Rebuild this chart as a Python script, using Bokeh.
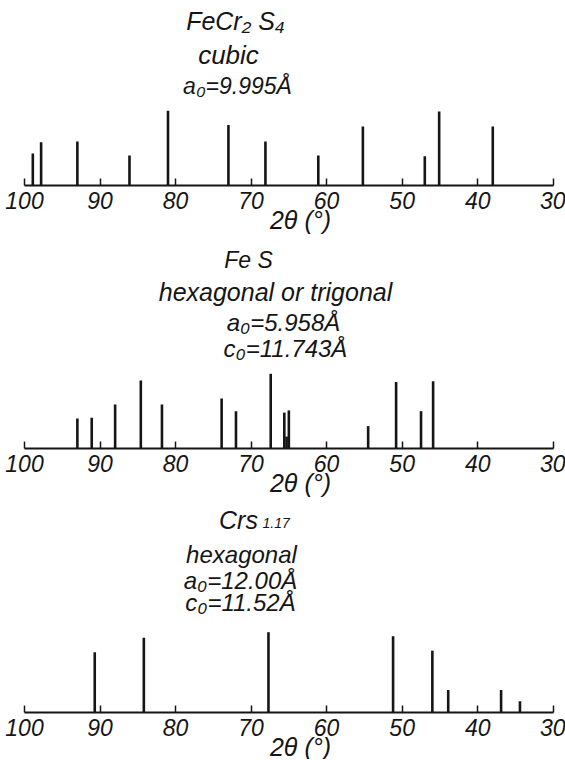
from bokeh.plotting import figure
from bokeh.models import Range1d, Label, FixedTicker
from bokeh.layouts import column
from bokeh.embed import file_html
from bokeh.resources import INLINE

# ---------------- data ----------------
tick_positions = [100, 90, 80, 70, 60, 50, 40, 30]
x_axis_label = "2θ (°)"

fecr2s4_2theta = [98.9, 97.8, 93.0, 86.1, 81.0, 73.0, 68.1, 61.1, 55.2, 47.0, 45.1, 38.0]
fecr2s4_rel_int = [43, 58, 59, 40, 100, 81, 59, 40, 79, 39, 99, 79]

fes_2theta = [93.0, 91.1, 88.0, 84.6, 81.8, 73.9, 72.0, 67.4, 65.6, 65.3, 65.0, 54.5, 50.8, 47.5, 45.9]
fes_rel_int = [40, 41, 59, 91, 59, 67, 50, 100, 48, 16, 51, 30, 89, 50, 90]

crs_2theta = [90.7, 84.2, 67.7, 51.2, 46.0, 43.9, 36.9, 34.4]
crs_rel_int = [75, 93, 100, 95, 77, 28, 28, 14]

fecr2s4_title = ["FeCr₂ S₄", "cubic", "a₀=9.995Å"]
fes_title = ["Fe S", "hexagonal or trigonal", "a₀=5.958Å", "c₀=11.743Å"]
crs_title = ["Crs", "hexagonal", "a₀=12.00Å", "c₀=11.52Å"]
crs_subscript = "1.17"

# ---------------- style / layout ----------------
FONT = "Liberation Sans"
INK = "#151515"
WIDTH = 565
X100 = 24.0          # pixel column of the 100° tick
X30 = 552.7          # pixel column of the 30° tick
PX_PER_DEG = (X30 - X100) / 70.0
X_START = 100 + X100 / PX_PER_DEG
X_END = 30 - (WIDTH - X30) / PX_PER_DEG


def deg_at(px):
    return 100 - (px - X100) / PX_PER_DEG


def label(p, x, y, text, size, align="center"):
    p.add_layout(Label(x=x, y=y, text=text, text_align=align,
                       text_baseline="alphabetic", text_font=FONT,
                       text_font_style="italic", text_font_size=size,
                       text_color=INK))


def make_panel(tt, inten, height, below_px, peak_px, titles):
    ppu = peak_px / 100.0
    p = figure(width=WIDTH, height=height,
               x_range=Range1d(X_START, X_END),
               y_range=Range1d(-below_px / ppu, (height - below_px) / ppu),
               y_axis_location=None, toolbar_location=None, output_backend="svg",
               min_border_left=0, min_border_right=0, min_border_top=0,
               min_border_bottom=0, outline_line_color=None,
               background_fill_color="white", border_fill_color="white")
    p.grid.visible = False
    p.segment(x0=tt, y0=[0] * len(tt), x1=tt, y1=inten, line_width=2.6, line_color=INK)
    ax = p.xaxis[0]
    ax.fixed_location = 0
    ax.bounds = (30, 100)
    ax.ticker = FixedTicker(ticks=tick_positions)
    ax.axis_line_width = 2
    ax.axis_line_color = INK
    ax.major_tick_line_color = INK
    ax.major_tick_line_width = 1.5
    ax.major_tick_in = 7
    ax.major_tick_out = 0
    ax.minor_tick_line_color = None
    ax.major_label_text_font = FONT
    ax.major_label_text_font_style = "italic"
    ax.major_label_text_font_size = "23px"
    ax.major_label_text_color = INK
    ax.major_label_standoff = 6
    label(p, deg_at(300), -34 / ppu, x_axis_label, "25px")
    for text, px, above_px, size in titles:
        label(p, deg_at(px), above_px / ppu, text, size)
    return p, ppu


# panel 1: canvas rows 0-238, axis at 185
p1, _ = make_panel(fecr2s4_2theta, fecr2s4_rel_int, 238, 53, 74.7, [
    (fecr2s4_title[0], 235, 165, "25px"),
    (fecr2s4_title[1], 228, 131, "26px"),
    (fecr2s4_title[2], 237, 100, "23px"),
])
# panel 2: canvas rows 238-500, axis at 448
p2, _ = make_panel(fes_2theta, fes_rel_int, 262, 52, 74.7, [
    (fes_title[0], 248, 189, "23px"),
    (fes_title[1], 275, 157, "25px"),
    (fes_title[2], 283, 126, "24px"),
    (fes_title[3], 285, 100, "24px"),
])
# panel 3: canvas rows 500-759, axis at 712
p3, ppu3 = make_panel(crs_2theta, crs_rel_int, 259, 47, 80.3, [
    (crs_title[0], 238, 193, "25px"),
    (crs_title[1], 241, 158, "24px"),
    (crs_title[2], 240, 132, "24px"),
    (crs_title[3], 240, 110, "24px"),
])
label(p3, deg_at(262), 190 / ppu3, crs_subscript, "14px", align="left")

layout = column(p1, p2, p3, spacing=0)
open("out.html", "w").write(file_html(layout, INLINE))
